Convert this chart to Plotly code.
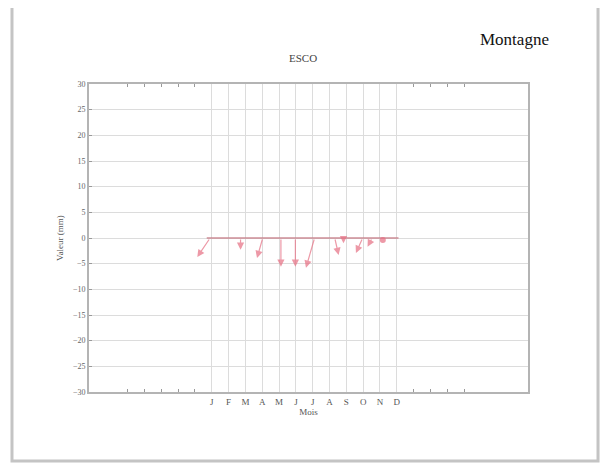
import plotly.graph_objects as go

# ---- data ----
month_vals = list(range(1, 13))
month_labels = ["J", "F", "M", "A", "M", "J", "J", "A", "S", "O", "N", "D"]
y_ticks = [30, 25, 20, 15, 10, 5, 0, -5, -10, -15, -20, -25, -30]

# arrows: tail at (tail_x, 0) -> head at (head_x, head_y)
tail_x = [0.9, 2.71, 4.03, 5.11, 5.97, 7.11, 8.31, 8.83, 9.97, 10.54]
head_x = [0.14, 2.71, 3.69, 5.11, 5.97, 6.6, 8.54, 8.83, 9.57, 10.26]
head_y = [-3.7, -2.3, -3.9, -5.6, -5.6, -5.8, -3.3, -1.0, -2.9, -1.7]
point_x = [11.17]
point_y = [-0.4]
base_x = [0.7, 12.1]
base_y = [0, 0]
minor_ticks = [-4, -3, -2, -1, 0, 13, 14, 15, 16]

serif = "Liberation Serif"
red = "rgba(230,110,130,0.7)"

fig = go.Figure()
fig.add_trace(go.Scatter(x=base_x, y=base_y, mode="lines",
                         line=dict(color="rgba(200,130,140,0.9)", width=1.5),
                         showlegend=False, hoverinfo="skip"))
fig.add_trace(go.Scatter(x=point_x, y=point_y, mode="markers",
                         marker=dict(color=red, size=6, symbol="circle"),
                         showlegend=False))

for tx, hx, hy in zip(tail_x, head_x, head_y):
    fig.add_annotation(x=hx, y=hy, ax=tx, ay=0, xref="x", yref="y",
                       axref="x", ayref="y", text="", showarrow=True,
                       arrowhead=2, arrowsize=1.2, arrowwidth=1.2,
                       arrowcolor=red)

fig.update_xaxes(range=[-6.3, 19.8], tickmode="array", tickvals=month_vals,
                 ticktext=month_labels, showgrid=True, gridcolor="#dcdcdc",
                 gridwidth=1, ticks="", zeroline=False, showline=True,
                 linecolor="#b4b4b4", linewidth=2, mirror="ticks",
                 tickfont=dict(family=serif, size=9, color="#555"),
                 title=dict(text="Mois", font=dict(family=serif, size=9, color="#555"),
                            standoff=0),
                 minor=dict(tickmode="array", tickvals=minor_ticks, ticks="inside",
                            ticklen=3, tickcolor="#999", showgrid=False))
fig.update_yaxes(range=[-30, 30], tickmode="array", tickvals=y_ticks,
                 showgrid=True, gridcolor="#dcdcdc", gridwidth=1,
                 ticks="inside", ticklen=3, tickcolor="#999",
                 zeroline=False, showline=True, linecolor="#b4b4b4",
                 linewidth=2, mirror=True,
                 tickfont=dict(family=serif, size=8, color="#666"),
                 title=dict(text="Valeur (mm)", font=dict(family=serif, size=9, color="#555"),
                            standoff=8))

# outer frame
fig.add_shape(type="rect", xref="paper", yref="paper",
              x0=-0.1754, x1=1.1595, y0=-0.224, y1=1.2532,
              line=dict(color="#c4c4c4", width=3), layer="below")

fig.add_annotation(text="ESCO", xref="paper", yref="paper", x=0.487, y=1.084,
                   xanchor="center", yanchor="middle",
                   showarrow=False, font=dict(family=serif, size=11, color="#444"))
fig.add_annotation(text="Montagne", xref="paper", yref="paper", x=0.970, y=1.143,
                   xanchor="center", yanchor="middle",
                   showarrow=False, font=dict(family=serif, size=17, color="#111"))

fig.update_layout(width=608, height=463, margin=dict(l=81, r=88, t=76, b=79),
                  paper_bgcolor="white", plot_bgcolor="white", showlegend=False)

fig.write_html("out.html")
